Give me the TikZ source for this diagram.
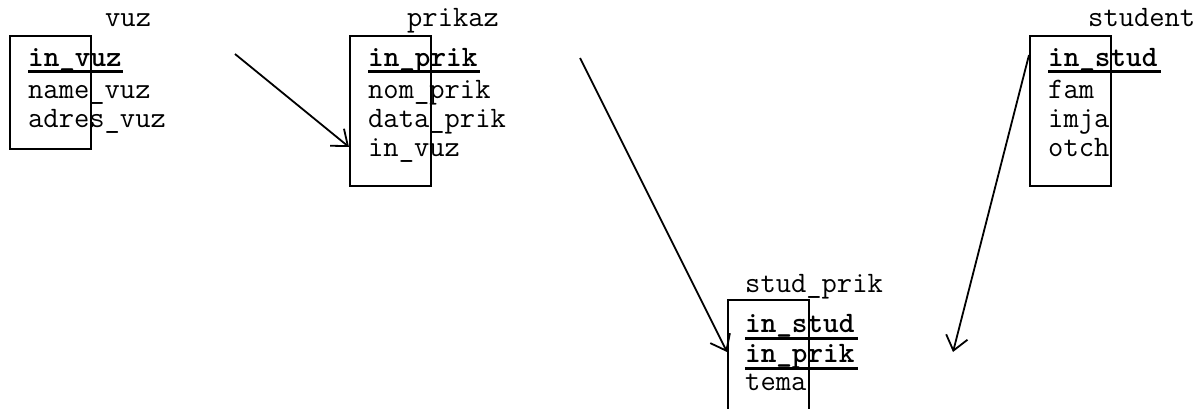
\documentclass[tikz,border=0pt]{standalone}
\usepackage{fontspec}
\usetikzlibrary{arrows.meta}
\begin{document}
\begin{tikzpicture}[x=1pt,y=-1pt,
  font=\ttfamily\fontsize{29.7}{30}\selectfont,
  tbl/.style={draw,line width=2pt,minimum width=81pt,anchor=north west,inner sep=0pt},
  lbl/.style={anchor=base west,inner sep=0pt},
  key/.style={anchor=base west,inner sep=0pt,font=\ttfamily\bfseries\fontsize{29.7}{30}\selectfont},
  uline/.style={line width=3pt},
  rel/.style={line width=1.8pt,-{Straight Barb[length=14pt,width=22pt,line width=1.8pt]}}]
\clip (0,0) rectangle (1200,409);
% vuz
\node[tbl,minimum height=113pt] (vuz) at (9,35) {};
\node[lbl] (tvuz) at (105,27) {vuz};
\node[key] (vuz1) at (28,67) {in\_vuz};
\node[lbl] (vuz2) at (28,99) {name\_vuz};
\node[lbl] (vuz3) at (28,128) {adres\_vuz};
\draw[uline] (28,72) -- (123,72);
% prikaz
\node[tbl,minimum height=150pt] (prikaz) at (349,35) {};
\node[lbl] (tprikaz) at (407,27) {prikaz};
\node[key] (pr1) at (368,67) {in\_prik};
\node[lbl] (pr2) at (368,99) {nom\_prik};
\node[lbl] (pr3) at (368,128) {data\_prik};
\node[lbl] (pr4) at (368,157) {in\_vuz};
\draw[uline] (368,72) -- (480,72);
% student
\node[tbl,minimum height=150pt] (student) at (1029,35) {};
\node[lbl] (tstudent) at (1088,27) {student};
\node[key] (st1) at (1048,67) {in\_stud};
\node[lbl] (st2) at (1048,99) {fam};
\node[lbl] (st3) at (1048,128) {imja};
\node[lbl] (st4) at (1048,157) {otch};
\draw[uline] (1048,72) -- (1161,72);
% stud_prik
\node[tbl,minimum height=130pt] (studprik) at (727,299) {};
\node[lbl] (tstudprik) at (745,292) {stud\_prik};
\node[key] (sp1) at (745,332) {in\_stud};
\node[key] (sp2) at (745,362) {in\_prik};
\node[lbl] (sp3) at (745,390) {tema};
\draw[uline] (745,338) -- (858,338);
\draw[uline] (745,368) -- (858,368);
% connectors
\coordinate (a1) at (235,54);
\coordinate (a2) at (580,58);
\coordinate (a3) at (953,352);
\draw[rel] (a1) -- (prikaz.west |- 0,147);
\draw[rel] (a2) -- (studprik.west |- 0,352);
\draw[rel] (student.west |- 0,55) -- (a3);
\end{tikzpicture}
\end{document}
